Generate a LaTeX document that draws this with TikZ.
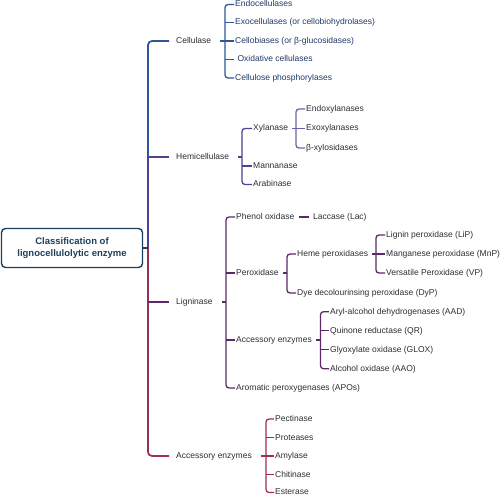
\documentclass[tikz,border=0pt]{standalone}
\usepackage{fontspec}
\setmainfont{Liberation Sans}
\usepackage{xcolor}
\usetikzlibrary{positioning}
\definecolor{celc}{RGB}{43,88,150}
\definecolor{hemc}{RGB}{82,62,148}
\definecolor{xylc}{RGB}{112,96,168}
\definecolor{ligc}{RGB}{92,40,104}
\definecolor{accc}{RGB}{158,44,90}
\definecolor{rootc}{RGB}{30,63,90}
\definecolor{celtext}{RGB}{31,56,104}
\definecolor{txt}{RGB}{45,45,52}

\begin{document}
\begin{tikzpicture}[x=1pt, y=-1pt,
        lab/.style={anchor=west, inner sep=1pt, text=txt, text height=6.5pt, text depth=1.8pt,
          font=\fontsize{8.5}{10}\selectfont},
        cellab/.style={lab, text=celtext},
        rootbox/.style={draw=rootc, line width=1.4pt, rounded corners=4pt, text=rootc,
          minimum width=141pt, minimum height=39pt, align=center, inner sep=2pt,
          font=\bfseries\fontsize{9.5}{12}\selectfont},
        trunk/.style={line width=1.7pt, rounded corners=4pt},
        br/.style={line width=1.3pt, rounded corners=3pt}]
    \useasboundingbox (0,0) rectangle (500,497);

    \node[rootbox] (root) at (72,248) {Classification of\\lignocellulolytic enzyme};

    % main branches
    \node[lab] (cel) at (175,41) {Cellulase};
    \node[lab] (hem) at (175,157) {Hemicellulase};
    \node[lab] (lig) at (175,302) {Ligninase};
    \node[lab] (acc) at (175,456) {Accessory enzymes};
    \coordinate (tk) at (148,248);

    \draw[trunk, celc] ([xshift=-6pt]cel.west) -| (hem.west -| tk);
    \draw[trunk, hemc] (hem.west -| tk) -- (tk);
    \draw[trunk, hemc] (hem.west -| tk) -- ([xshift=-6pt]hem.west);
    \draw[trunk, accc] (tk) |- ([xshift=-6pt]acc.west);
    \draw[trunk, ligc] (lig.west -| tk) -- ([xshift=-6pt]lig.west);
    \draw[rootc, line width=1.4pt] (root.east) -- (tk);

    % cellulase
    \node[cellab] (endo) at (234,4.5) {Endocellulases};
    \node[cellab] (exo) at (234,22.5) {Exocellulases (or cellobiohydrolases)};
    \node[cellab] (cbio) at (234,41) {Cellobiases (or β-glucosidases)};
    \node[cellab] (oxi) at (234,59.5) {\ Oxidative cellulases};
    \node[cellab] (cphos) at (234,78) {Cellulose phosphorylases};
    \coordinate (celb) at (225,41);
    \draw[br, celc] ([xshift=8pt]cel.east) -- (celb) -- (cbio.west);
    \draw[br, celc] (endo.west) -| (celb) |- (cphos.west);
    \foreach \n in {exo, oxi}
      \draw[br, celc] (\n.west -| celb) -- (\n.west);

    % hemicellulase
    \node[lab] (xyl) at (252,128.5) {Xylanase};
    \node[lab] (man) at (252,166) {Mannanase};
    \node[lab] (ara) at (252,184.5) {Arabinase};
    \coordinate (hemb) at (242,157);
    \draw[br, hemc] ([xshift=8pt]hem.east) -- (hemb);
    \draw[br, hemc] (xyl.west) -| (hemb) |- (ara.west);
    \draw[br, hemc] (man.west -| hemb) -- (man.west);

    \node[lab] (endx) at (305,109) {Endoxylanases};
    \node[lab] (exx) at (305,128.5) {Exoxylanases};
    \node[lab] (bxyl) at (305,148) {β-xylosidases};
    \coordinate (xylb) at (296,128.5);
    \draw[br, xylc] ([xshift=3pt]xyl.east) -- (xylb) -- (exx.west);
    \draw[br, xylc] (endx.west) -| (xylb) |- (bxyl.west);

    % ligninase
    \node[lab] (phe) at (235,217) {Phenol oxidase};
    \node[lab] (per) at (235,273) {Peroxidase};
    \node[lab] (lacc) at (235,340) {Accessory enzymes};
    \node[lab] (apo) at (235,388) {Aromatic peroxygenases (APOs)};
    \coordinate (ligb) at (226,302);
    \draw[br, ligc] ([xshift=8pt]lig.east) -- (ligb);
    \draw[br, ligc] (phe.west) -| (ligb) |- (apo.west);
    \foreach \n in {per, lacc}
      \draw[br, ligc] (\n.west -| ligb) -- (\n.west);

    \node[lab] (lac) at (312,217) {Laccase (Lac)};
    \draw[br, ligc] ([xshift=3pt]phe.east) -- ([xshift=-3pt]lac.west);

    \node[lab] (heme) at (296,254) {Heme peroxidases};
    \node[lab] (dyp) at (296,293) {Dye decolourinsing peroxidase (DyP)};
    \coordinate (perb) at (287,273);
    \draw[br, ligc] ([xshift=3pt]per.east) -- (perb);
    \draw[br, ligc] (heme.west) -| (perb) |- (dyp.west);

    \node[lab] (lip) at (385,235) {Lignin peroxidase (LiP)};
    \node[lab] (mnp) at (385,254) {Manganese peroxidase (MnP)};
    \node[lab] (vp) at (385,273) {Versatile Peroxidase (VP)};
    \coordinate (hemeb) at (376,254);
    \draw[br, ligc] ([xshift=3pt]heme.east) -- (hemeb) -- (mnp.west);
    \draw[br, ligc] (lip.west) -| (hemeb) |- (vp.west);

    \node[lab] (aad) at (329,311.7) {Aryl-alcohol dehydrogenases (AAD)};
    \node[lab] (qr) at (329,330.7) {Quinone reductase (QR)};
    \node[lab] (glox) at (329,349.7) {Glyoxylate oxidase (GLOX)};
    \node[lab] (aao) at (329,368.7) {Alcohol oxidase (AAO)};
    \coordinate (laccb) at (320.5,340);
    \draw[br, ligc] ([xshift=3pt]lacc.east) -- (laccb);
    \draw[br, ligc] (aad.west) -| (laccb) |- (aao.west);
    \foreach \n in {qr, glox}
      \draw[br, ligc] (\n.west -| laccb) -- (\n.west);

    % accessory enzymes
    \node[lab] (pec) at (274,419) {Pectinase};
    \node[lab] (pro) at (274,437.7) {Proteases};
    \node[lab] (amy) at (274,456) {Amylase};
    \node[lab] (chi) at (274,474.7) {Chitinase};
    \node[lab] (est) at (274,492.5) {Esterase};
    \coordinate (accb) at (266,456);
    \draw[br, accc] ([xshift=8pt]acc.east) -- (accb) -- (amy.west);
    \draw[br, accc] (pec.west) -| (accb) |- (est.west);
    \foreach \n in {pro, chi}
      \draw[br, accc] (\n.west -| accb) -- (\n.west);
\end{tikzpicture}
\end{document}
